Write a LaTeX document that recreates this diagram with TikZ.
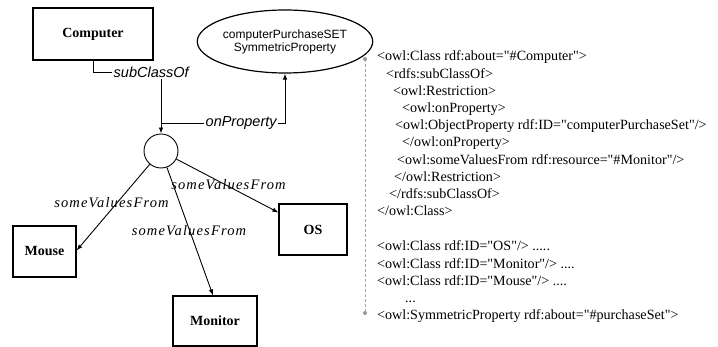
\documentclass[tikz,border=0pt]{standalone}
\usepackage{fontspec}
\setmainfont{Liberation Serif}
\newfontfamily\arialf{Liberation Sans}
\newfontfamily\spacedserif[LetterSpace=8]{Liberation Serif}
\newfontfamily\xmlfont[Ligatures=TeXOff]{Liberation Serif}
\usetikzlibrary{shapes.geometric,arrows.meta}

\tikzset{
  cls/.style={draw, line width=1.2pt, inner sep=0pt,
              font=\fontsize{14}{16}\selectfont\bfseries},
  rel/.style={-{Latex[length=6pt,width=4.5pt]}, line width=0.9pt},
  lnk/.style={line width=0.9pt},
  sanslbl/.style={inner sep=1.5pt, font=\arialf\itshape\fontsize{14.5}{16}\selectfont},
  svflbl/.style={inner sep=1pt, font=\spacedserif\itshape\fontsize{14.5}{16}\selectfont},
  xml/.style={anchor=base west, inner sep=0pt, font=\xmlfont\fontsize{14.1}{16}\selectfont},
  guide/.style={draw=gray!70, line width=0.7pt, dash pattern=on 3pt off 2pt},
}

\begin{document}
\begin{tikzpicture}[x=1pt,y=-1pt]
\useasboundingbox (0,0) rectangle (718,347);

% ---- class graph ----
\node[cls, minimum width=120pt, minimum height=52pt] (computer) at (93,34) {Computer};
\node[draw, ellipse, line width=1.2pt, minimum width=140pt, minimum height=63pt,
      inner sep=0pt, align=center, font=\arialf\fontsize{12}{13}\selectfont]
      (prop) at (285,41.5) {computerPurchaseSET\\SymmetricProperty};
\node[draw, circle, line width=0.9pt, minimum size=34pt, inner sep=0pt] (restr) at (161,151) {};
\node[cls, minimum width=63pt, minimum height=51pt] (mouse) at (44.5,251.5) {Mouse};
\node[cls, minimum width=84pt, minimum height=50pt] (monitor) at (215,321) {Monitor};
\node[cls, minimum width=68pt, minimum height=51pt] (os) at (313,229.5) {OS};

% edge labels
\node[sanslbl, anchor=west] (subcl) at (112,72) {subClassOf};
\node[sanslbl, anchor=west] (onprop) at (204,123) {onProperty};
\node[svflbl] (svfos) at (228.5,185) {someValuesFrom};
\node[svflbl] (svfmouse) at (111.5,203) {someValuesFrom};
\node[svflbl] (svfmon) at (189,231) {someValuesFrom};

% edges
\draw[lnk] (computer.south) |- (subcl.west);
\draw[rel] (subcl.south -| restr.north) -- (restr.north);
\draw[lnk] (restr.north |- onprop.west) -- (onprop.west);
\draw[rel] (onprop.east) -| (prop.south);
\draw[rel] (restr) -- ([yshift=1pt]mouse.east);
\draw[rel] (restr) -- ([xshift=-2pt]monitor.north);
\draw[rel] (restr) -- ([yshift=17pt]os.west);

% ---- OWL listing ----
\coordinate (gtop) at (365,59);
\coordinate (gbot) at (365,313);
\draw[guide] (gtop) -- (gbot);
\fill[gray!80] (gtop) circle (2pt) (gbot) circle (2pt);

\node[xml] (l1)  at (377,61)    {<owl:Class rdf:about="\#Computer">};
\node[xml] (l2)  at (386,78.2)  {<rdfs:subClassOf>};
\node[xml] (l3)  at (393,95.4)  {<owl:Restriction>};
\node[xml] (l4)  at (402,112.6) {<owl:onProperty>};
\node[xml] (l5)  at (395,129.8) {<owl:ObjectProperty rdf:ID="computerPurchaseSet"/>};
\node[xml] (l6)  at (402,147)   {</owl:onProperty>};
\node[xml] (l7)  at (397,164.2) {<owl:someValuesFrom rdf:resource="\#Monitor"/>};
\node[xml] (l8)  at (394,181.4) {</owl:Restriction>};
\node[xml] (l9)  at (389,198.6) {</rdfs:subClassOf>};
\node[xml] (l10) at (377,215.8) {</owl:Class>};
\node[xml] (l11) at (377,251)   {<owl:Class rdf:ID="OS"/> .....};
\node[xml] (l12) at (377,268.2) {<owl:Class rdf:ID="Monitor"/> ....};
\node[xml] (l13) at (377,285.4) {<owl:Class rdf:ID="Mouse"/> ....};
\node[xml] (l14) at (405,302.6) {...};
\node[xml] (l15) at (377,320)   {<owl:SymmetricProperty rdf:about="\#purchaseSet">};
\end{tikzpicture}
\end{document}
